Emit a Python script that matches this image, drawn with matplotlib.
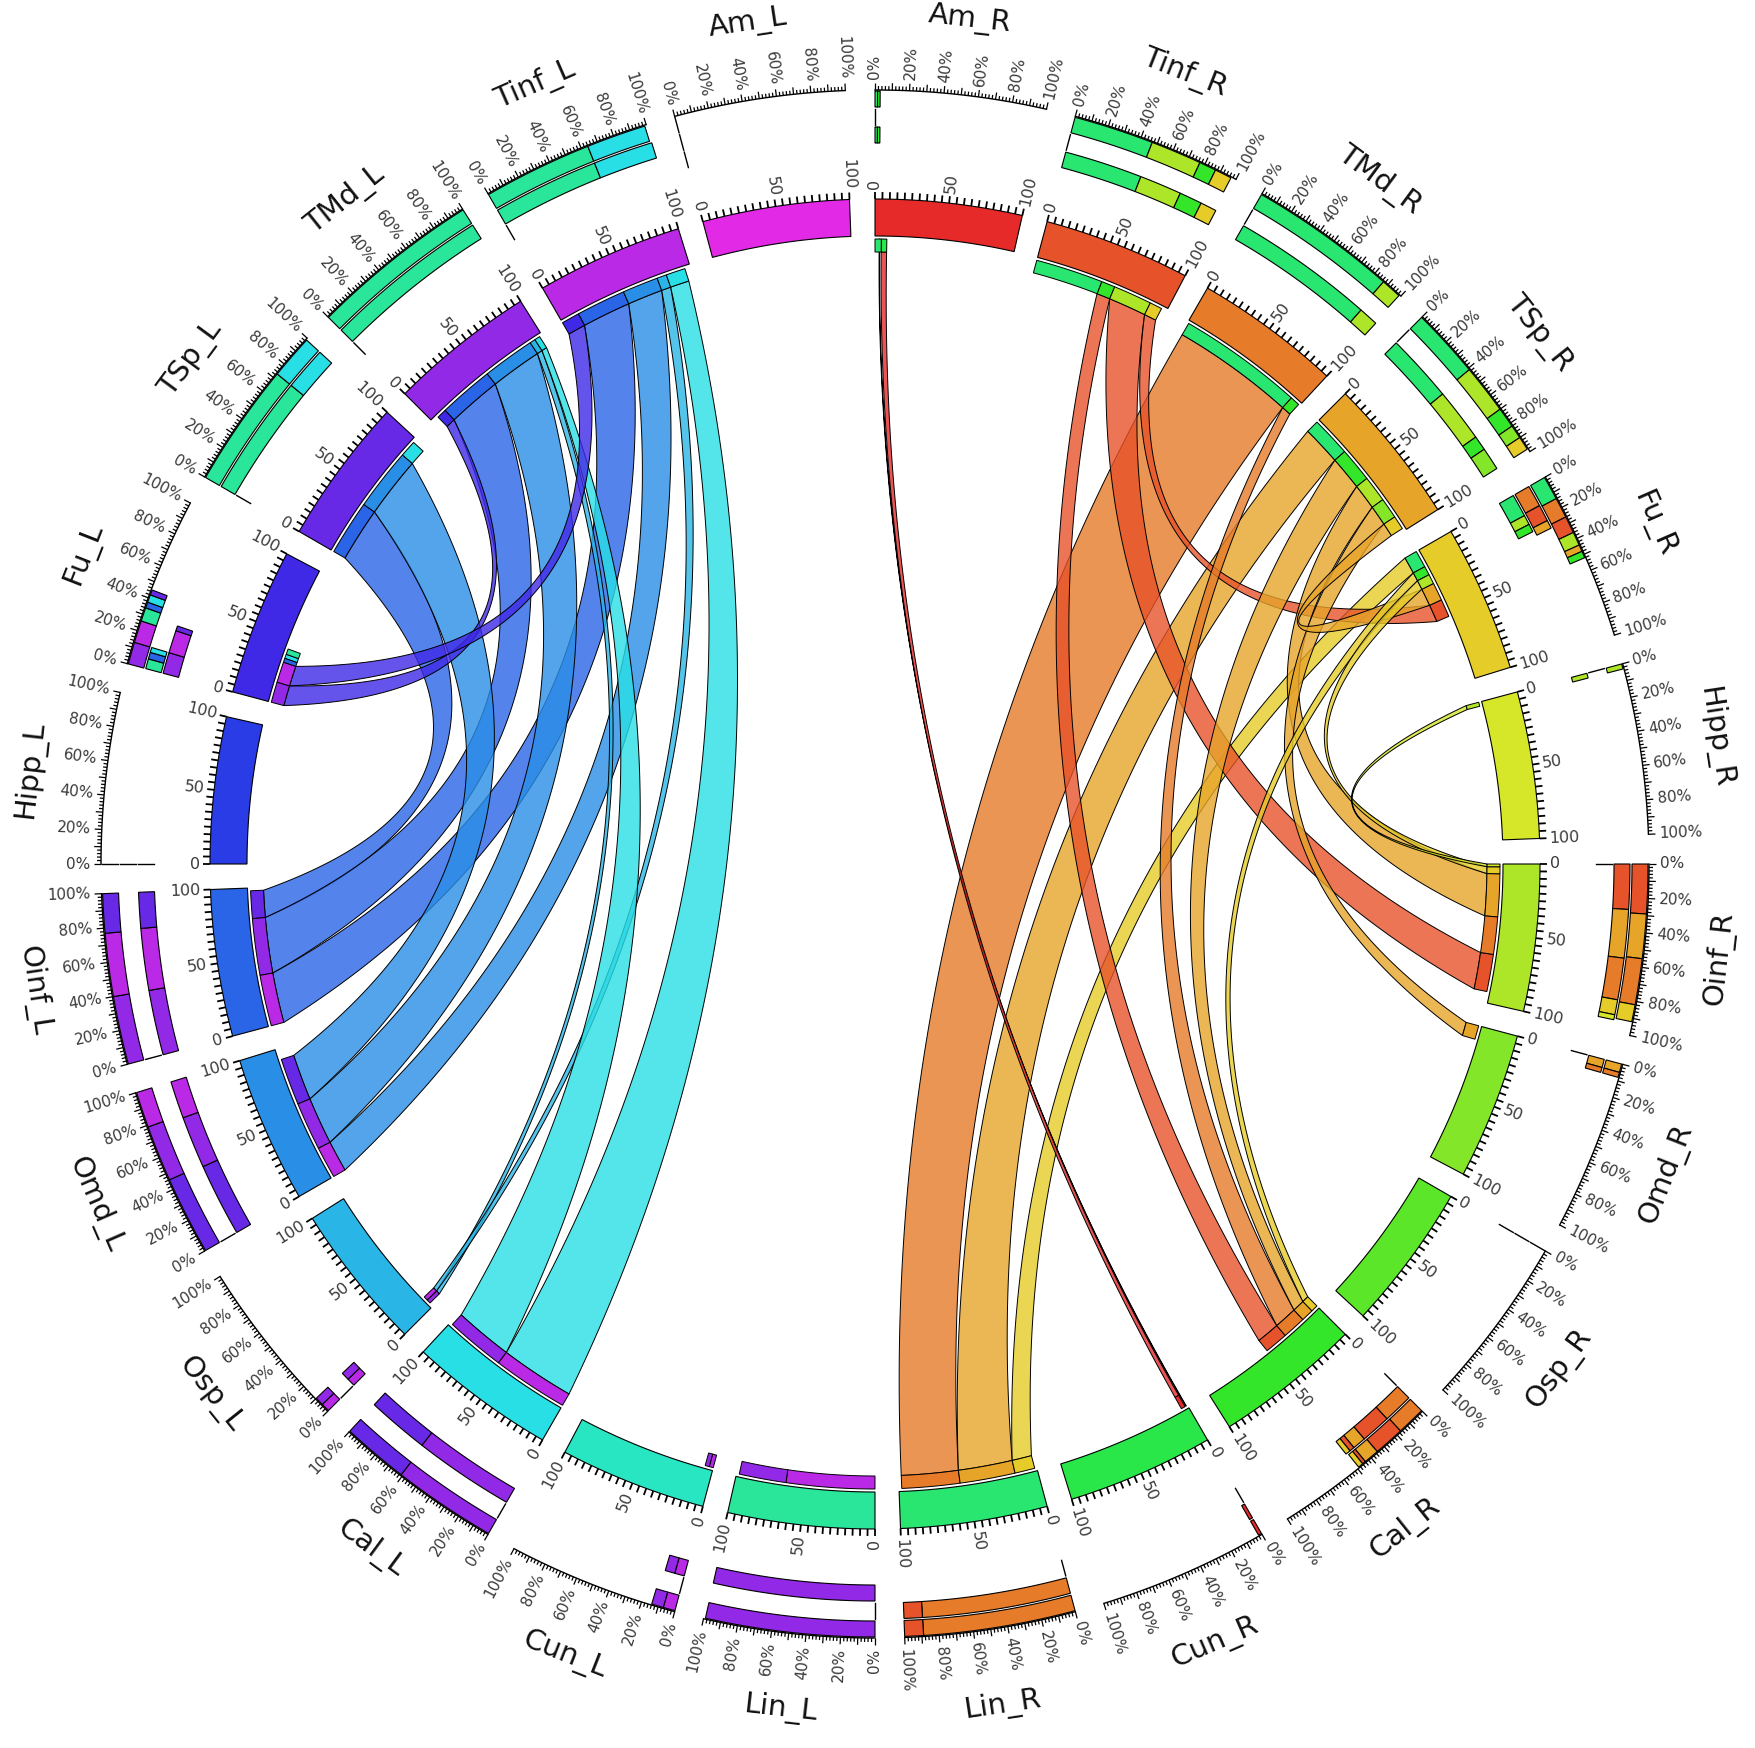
import colorsys
import numpy as np
import matplotlib
matplotlib.use("Agg")
import matplotlib.pyplot as plt
from matplotlib.patches import Polygon

# segments, clockwise from 12 o'clock
segments = ["Am_R", "Tinf_R", "TMd_R", "TSp_R", "Fu_R", "Hipp_R",
            "Oinf_R", "Omd_R", "Osp_R", "Cal_R", "Cun_R", "Lin_R",
            "Lin_L", "Cun_L", "Cal_L", "Osp_L", "Omd_L", "Oinf_L",
            "Hipp_L", "Fu_L", "TSp_L", "TMd_L", "Tinf_L", "Am_L"]

# links on the 0-100 scale: (coloured end, from, to, other end, from, to)
links = [
    ("Oinf_L", 78, 98, "TSp_L", 0, 40),
    ("Oinf_L", 37, 78, "TMd_L", 12, 52),
    ("Oinf_L", 0, 37, "Tinf_L", 13, 49),
    ("Omd_L", 58, 92, "TSp_L", 40, 85),
    ("Omd_L", 23, 58, "TMd_L", 52, 90),
    ("Omd_L", 0, 23, "Tinf_L", 49, 75),
    ("Osp_L", 3, 6, "TMd_L", 90, 94),
    ("Osp_L", 6, 9, "Tinf_L", 75, 82),
    ("Cal_L", 55, 98, "TMd_L", 94, 98),
    ("Cal_L", 0, 55, "Tinf_L", 82, 96),
    ("Fu_L", 0, 15, "TMd_L", 5, 12),
    ("Fu_L", 15, 30, "Tinf_L", 0, 13),
    ("TMd_R", 1, 92, "Lin_R", 56, 98),
    ("TSp_R", 0, 29, "Lin_R", 16, 56),
    ("Fu_R", 0, 12.5, "Lin_R", 1.5, 16),
    ("Tinf_R", 49, 59, "Cal_R", 31, 48),
    ("Tinf_R", 59, 87, "Oinf_R", 65, 92),
    ("Tinf_R", 87, 96, "Fu_R", 39, 52),
    ("TMd_R", 92, 99, "Cal_R", 14, 31),
    ("TSp_R", 29, 54, "Cal_R", 5, 14),
    ("TSp_R", 54, 73, "Oinf_R", 7, 38),
    ("TSp_R", 73, 88, "Omd_R", 0, 10),
    ("TSp_R", 88, 98, "Fu_R", 26, 39),
    ("Fu_R", 12.5, 19, "Cal_R", 0, 5),
    ("Fu_R", 19, 26, "Oinf_R", 2, 7),
    ("Hipp_R", 0, 3, "Oinf_R", 0, 2),
    ("Am_R", 3.0, 3.4, "Cun_R", 1, 1.4),
    ("Am_R", 4.5, 8.5, "Cun_R", 2, 5),
]

# end markers that have no link drawn: (segment, from, to, colour of)
extra_marks = [
    ("Am_R", 0, 4.5, "Lin_R"),
    ("Tinf_R", 0, 49, "Lin_R"),
    ("Oinf_R", 38, 65, "TMd_R"),
    ("TSp_L", 85, 97, "Cal_L"),
    ("Fu_L", 30, 33, "Oinf_L"),
    ("Fu_L", 33, 36, "Cal_L"),
    ("Fu_L", 36, 40, "Lin_L"),
    ("Cun_L", 0, 3, "Tinf_L"),
    ("Cun_L", 3, 6, "TMd_L"),
    ("Lin_L", 0, 64, "Tinf_L"),
    ("Lin_L", 64, 98, "TMd_L"),
]

# outer percentage track: (segment, row, from %, to %, colour of)
bar_blocks = [
    ("Am_R", 1, 0, 1.5, "Lin_R"), ("Am_R", 1, 1.5, 3, "Cal_R"),
    ("Am_R", 3, 0, 1.5, "Lin_R"), ("Am_R", 3, 1.5, 3, "Cal_R"),
    ("Tinf_R", 1, 0, 47, "Lin_R"), ("Tinf_R", 1, 47, 77, "Oinf_R"),
    ("Tinf_R", 1, 77, 87, "Cal_R"), ("Tinf_R", 1, 87, 97, "Fu_R"),
    ("Tinf_R", 3, 0, 48, "Lin_R"), ("Tinf_R", 3, 48, 74, "Oinf_R"),
    ("Tinf_R", 3, 74, 88, "Cal_R"), ("Tinf_R", 3, 88, 98, "Fu_R"),
    ("TMd_R", 1, 0, 87, "Lin_R"), ("TMd_R", 1, 87, 99, "Oinf_R"),
    ("TMd_R", 3, 0, 88, "Lin_R"), ("TMd_R", 3, 88, 100, "Oinf_R"),
    ("TSp_R", 1, 0, 41, "Lin_R"), ("TSp_R", 1, 41, 70, "Oinf_R"),
    ("TSp_R", 1, 70, 82, "Cal_R"), ("TSp_R", 1, 82, 90, "Omd_R"),
    ("TSp_R", 1, 90, 98, "Fu_R"),
    ("TSp_R", 3, 0, 42, "Lin_R"), ("TSp_R", 3, 42, 75, "Oinf_R"),
    ("TSp_R", 3, 75, 84, "Cal_R"), ("TSp_R", 3, 84, 98, "Omd_R"),
    ("Fu_R", 1, 0, 14, "Lin_R"), ("Fu_R", 1, 14, 26, "TMd_R"),
    ("Fu_R", 1, 26, 36, "Tinf_R"), ("Fu_R", 1, 36, 44, "Oinf_R"),
    ("Fu_R", 1, 44, 48, "TSp_R"), ("Fu_R", 1, 48, 52, "Cal_R"),
    ("Fu_R", 2, 0, 13, "TMd_R"), ("Fu_R", 2, 13, 23, "Tinf_R"),
    ("Fu_R", 2, 23, 28, "TSp_R"),
    ("Fu_R", 3, 0, 14, "Lin_R"), ("Fu_R", 3, 14, 20, "Oinf_R"),
    ("Fu_R", 3, 20, 25, "Cal_R"),
    ("Hipp_R", 1, 0, 3, "Oinf_R"), ("Hipp_R", 3, 0, 3, "Oinf_R"),
    ("Oinf_R", 1, 0, 29, "Tinf_R"), ("Oinf_R", 1, 29, 55, "TSp_R"),
    ("Oinf_R", 1, 55, 82, "TMd_R"), ("Oinf_R", 1, 82, 92, "Fu_R"),
    ("Oinf_R", 2, 0, 27, "Tinf_R"), ("Oinf_R", 2, 27, 56, "TSp_R"),
    ("Oinf_R", 2, 56, 81, "TMd_R"), ("Oinf_R", 2, 81, 90, "Fu_R"),
    ("Oinf_R", 2, 90, 93, "Hipp_R"),
    ("Omd_R", 1, 0, 5, "TSp_R"), ("Omd_R", 1, 5, 8, "TMd_R"),
    ("Omd_R", 2, 0, 5, "TSp_R"), ("Omd_R", 2, 5, 8, "TMd_R"),
    ("Cal_R", 1, 0, 17, "TMd_R"), ("Cal_R", 1, 17, 35, "Tinf_R"),
    ("Cal_R", 1, 35, 44, "TSp_R"), ("Cal_R", 1, 44, 46, "Tinf_R"),
    ("Cal_R", 1, 46, 49, "Fu_R"),
    ("Cal_R", 2, 0, 18, "TMd_R"), ("Cal_R", 2, 18, 36, "Tinf_R"),
    ("Cal_R", 2, 36, 44, "TSp_R"), ("Cal_R", 2, 44, 47, "Tinf_R"),
    ("Cal_R", 2, 47, 50, "Fu_R"),
    ("Cun_R", 1, 0, 2, "Am_R"), ("Cun_R", 2, 0, 2, "Am_R"),
    ("Lin_R", 1, 0, 89, "TMd_R"), ("Lin_R", 1, 89, 100, "Tinf_R"),
    ("Lin_R", 2, 0, 89, "TMd_R"), ("Lin_R", 2, 89, 100, "Tinf_R"),
    ("Lin_L", 1, 0, 99, "TMd_L"), ("Lin_L", 3, 0, 99, "TMd_L"),
    ("Cun_L", 1, 0, 7, "Tinf_L"), ("Cun_L", 1, 7, 14, "TMd_L"),
    ("Cun_L", 3, 0, 6, "Tinf_L"), ("Cun_L", 3, 6, 12, "TMd_L"),
    ("Cal_L", 1, 0, 61, "TMd_L"), ("Cal_L", 1, 61, 100, "TSp_L"),
    ("Cal_L", 3, 0, 62, "TMd_L"), ("Cal_L", 3, 62, 100, "TSp_L"),
    ("Osp_L", 1, 0, 5, "Tinf_L"), ("Osp_L", 1, 5, 10, "TMd_L"),
    ("Osp_L", 3, 0, 5, "Tinf_L"), ("Osp_L", 3, 5, 10, "TMd_L"),
    ("Omd_L", 1, 0, 46, "TSp_L"), ("Omd_L", 1, 46, 79, "TMd_L"),
    ("Omd_L", 1, 79, 100, "Tinf_L"),
    ("Omd_L", 3, 0, 45, "TSp_L"), ("Omd_L", 3, 45, 77, "TMd_L"),
    ("Omd_L", 3, 77, 100, "Tinf_L"),
    ("Oinf_L", 1, 0, 40, "TMd_L"), ("Oinf_L", 1, 40, 77, "Tinf_L"),
    ("Oinf_L", 1, 77, 100, "TSp_L"),
    ("Oinf_L", 3, 0, 40, "TMd_L"), ("Oinf_L", 3, 40, 78, "Tinf_L"),
    ("Oinf_L", 3, 78, 100, "TSp_L"),
    ("Fu_L", 1, 0, 13, "TMd_L"), ("Fu_L", 1, 13, 26, "Tinf_L"),
    ("Fu_L", 1, 26, 34, "Lin_L"), ("Fu_L", 1, 34, 37.5, "Oinf_L"),
    ("Fu_L", 1, 37.5, 42, "Cal_L"), ("Fu_L", 1, 42, 45, "TSp_L"),
    ("Fu_L", 2, 0, 6, "Lin_L"), ("Fu_L", 2, 6, 10, "Oinf_L"),
    ("Fu_L", 2, 10, 13, "Cal_L"),
    ("Fu_L", 3, 0, 13, "TMd_L"), ("Fu_L", 3, 13, 27, "Tinf_L"),
    ("Fu_L", 3, 27, 30, "TSp_L"),
    ("TSp_L", 1, 0, 73, "Lin_L"), ("TSp_L", 1, 73, 99, "Cal_L"),
    ("TSp_L", 2, 0, 73, "Lin_L"), ("TSp_L", 2, 73, 99, "Cal_L"),
    ("TMd_L", 1, 0, 100, "Lin_L"), ("TMd_L", 2, 0, 100, "Lin_L"),
    ("Tinf_L", 1, 0, 64, "Lin_L"), ("Tinf_L", 1, 64, 99, "Cal_L"),
    ("Tinf_L", 2, 0, 64, "Lin_L"), ("Tinf_L", 2, 64, 100, "Cal_L"),
]

inner_ticks = [0, 50, 100]
pct_ticks = [0, 20, 40, 60, 80, 100]

# geometry (pixels)
CX, CY = 875, 864
STEP, SPAN = 15.0, 12.8
R_LINK, R_MARK = 612, 625
R_BAND0, R_BAND1 = 628, 665
R_AXIS = 774
ROWS = {1: (757, 773), 2: (739, 755), 3: (721, 737)}
R_NAME = 850

idx = {s: i for i, s in enumerate(segments)}


def colour(seg):
    i = idx[seg]
    return colorsys.hsv_to_rgb(i * 13 / 360.0, 0.82, 0.9)


def ang(seg, v):
    return idx[seg] * STEP + v / 100.0 * SPAN


def pt(theta, r):
    t = np.radians(theta)
    return np.array([CX + r * np.sin(t), CY - r * np.cos(t)])


def arc(t0, t1, r):
    n = max(6, int(abs(t1 - t0) * 5))
    t = np.radians(np.linspace(t0, t1, n))
    return np.column_stack([CX + r * np.sin(t), CY - r * np.cos(t)])


def block(ax, t0, t1, r0, r1, fc, z=4, lw=0.8):
    pts = np.vstack([arc(t0, t1, r1), arc(t1, t0, r0)])
    ax.add_patch(Polygon(pts, closed=True, fc=fc, ec="black", lw=lw, zorder=z))


def ctrl(ta, tb):
    diff = (tb - ta + 180) % 360 - 180
    d = abs(diff)
    k = max(0.0, 0.6 * (1 - (d / 145.0) ** 1.5))
    return pt(ta + diff / 2, R_LINK * k)


def bezier(ta, tb):
    p0, p2, c = pt(ta, R_LINK), pt(tb, R_LINK), ctrl(ta, tb)
    t = np.linspace(0, 1, 120)[:, None]
    return (1 - t) ** 2 * p0 + 2 * (1 - t) * t * c + t ** 2 * p2


def radial_text(ax, theta, r, s, size):
    th = theta % 360
    if th < 180:
        rot, ha = 90 - th, "left"
    else:
        rot, ha = 270 - th, "right"
    x, y = pt(theta, r)
    ax.text(x, y, s, rotation=rot, rotation_mode="anchor", ha=ha, va="center",
            fontsize=size, color="#3a3a3a", zorder=6)


fig = plt.figure(figsize=(17.55, 17.48), dpi=100)
ax = fig.add_axes([0, 0, 1, 1])
ax.set_xlim(0, 1755)
ax.set_ylim(1748, 0)
ax.axis("off")

# links
for a, a0, a1, b, b0, b1 in links:
    t1, t2 = ang(a, a0), ang(a, a1)
    t3, t4 = ang(b, b0), ang(b, b1)
    pts = np.vstack([arc(t1, t2, R_LINK), bezier(t2, t3),
                     arc(t3, t4, R_LINK), bezier(t4, t1)])
    r, g, bl = colour(a)
    ax.add_patch(Polygon(pts, closed=True, fc=(r, g, bl, 0.8), ec="black",
                         lw=0.7, zorder=2))

# end markers (partner colour at each link end)
marks = []
for a, a0, a1, b, b0, b1 in links:
    marks.append((a, a0, a1, b))
    marks.append((b, b0, b1, a))
marks += extra_marks
for seg, v0, v1, other in marks:
    block(ax, ang(seg, v0), ang(seg, v1), R_LINK, R_MARK, colour(other), z=4, lw=0.7)

for seg in segments:
    t0, t1 = ang(seg, 0), ang(seg, 100)
    # ideogram band
    block(ax, t0, t1, R_BAND0, R_BAND1, colour(seg), z=4)
    for v in range(0, 101, 5):
        p, q = pt(ang(seg, v), R_BAND1), pt(ang(seg, v), R_BAND1 + 7)
        ax.plot([p[0], q[0]], [p[1], q[1]], color="black", lw=1.3, zorder=5,
                solid_capstyle="butt")
    for v in inner_ticks:
        radial_text(ax, ang(seg, v), R_BAND1 + 10, str(v), 11.5)

    # percentage axis
    a = arc(t0, t1, R_AXIS)
    ax.plot(a[:, 0], a[:, 1], color="black", lw=1.0, zorder=5)
    for v in range(0, 101, 2):
        ln = 7 if v % 10 == 0 else 4
        p, q = pt(ang(seg, v), R_AXIS), pt(ang(seg, v), R_AXIS + ln)
        ax.plot([p[0], q[0]], [p[1], q[1]], color="black", lw=0.9, zorder=5,
                solid_capstyle="butt")
    for v in pct_ticks:
        radial_text(ax, ang(seg, v), R_AXIS + 11, f"{v}%", 11)

    # empty rows show a short dash at 0%
    used = {row for s, row, _, _, _ in bar_blocks if s == seg}
    for row, (r0, r1) in ROWS.items():
        if row not in used:
            p, q = pt(t0, r0), pt(t0, r1)
            ax.plot([p[0], q[0]], [p[1], q[1]], color="black", lw=1.0, zorder=5)

    # segment name
    mid = (t0 + t1) / 2
    th = mid % 360
    rot = 180 - th if 90 < th < 270 else -th
    x, y = pt(mid, R_NAME)
    ax.text(x, y, seg, rotation=rot, rotation_mode="anchor", ha="center",
            va="center", fontsize=21, color="#111111", zorder=6)

for seg, row, v0, v1, other in bar_blocks:
    r0, r1 = ROWS[row]
    block(ax, ang(seg, v0), ang(seg, v1), r0, r1, colour(other), z=4)

fig.savefig("out.png", dpi=100, facecolor="white")
